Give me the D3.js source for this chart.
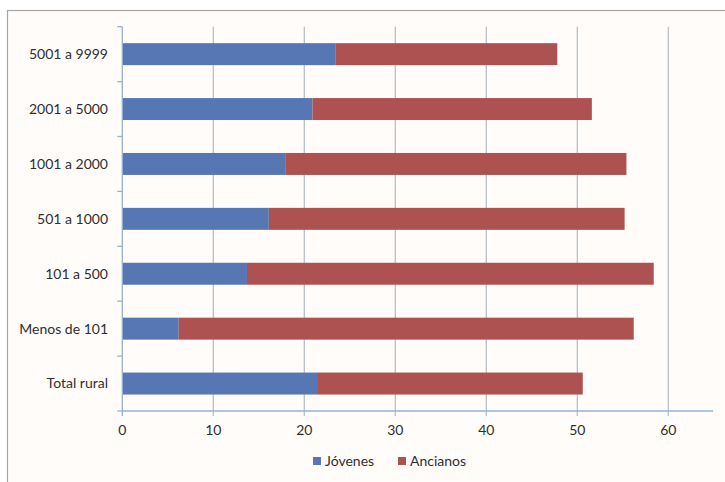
<!DOCTYPE html>
<html>
<head>
<meta charset="utf-8">
<script src="https://cdn.jsdelivr.net/npm/d3@7"></script>
<style>
  html, body { margin: 0; padding: 0; background: #ffffff; }
  svg { display: block; }
  text { font-family: Lato, "Open Sans", sans-serif; fill: #2f2f2f; }
</style>
</head>
<body>
<script>
// Población por tamaño de municipio: porcentaje de jóvenes y ancianos
const categories = ["5001 a 9999", "2001 a 5000", "1001 a 2000", "501 a 1000", "101 a 500", "Menos de 101", "Total rural"];
const jovenes  = [23.4, 20.9, 17.9, 16.1, 13.7, 6.2, 21.4];
const ancianos = [24.4, 30.7, 37.5, 39.1, 44.7, 50.0, 29.2];
const seriesNames = ["Jóvenes", "Ancianos"];
const seriesColors = ["#5677b4", "#ad5250"];
const xTicks = [0, 10, 20, 30, 40, 50, 60];

const W = 725, H = 482;
const svg = d3.select("body").append("svg").attr("width", W).attr("height", H);

// chart frame
svg.append("rect")
  .attr("x", 7.5).attr("y", 10.5).attr("width", W).attr("height", H)
  .attr("fill", "#fffcfa").attr("stroke", "#a8a4a2").attr("stroke-width", 1.2);

const plotLeft = 122.3, plotRight = 713, plotTop = 26.7, plotBottom = 411;
const x = d3.scaleLinear().domain([0, 60]).range([plotLeft, plotLeft + 546]);
const y = d3.scaleBand().domain(categories).range([plotTop, plotBottom]).paddingInner(0.6).paddingOuter(0.3);

// vertical gridlines with tick stubs below the axis
svg.append("g").selectAll("line").data(xTicks.filter(d => d > 0)).join("line")
  .attr("x1", d => x(d)).attr("x2", d => x(d))
  .attr("y1", plotTop).attr("y2", plotBottom + 5)
  .attr("stroke", "#b7c0c8").attr("stroke-width", 1.3);

// stacked bars
const rows = categories.map((c, i) => ({ cat: c, "Jóvenes": jovenes[i], "Ancianos": ancianos[i] }));
const stack = d3.stack().keys(seriesNames)(rows);
svg.append("g").selectAll("g").data(stack).join("g")
  .attr("fill", (d, i) => seriesColors[i])
  .selectAll("rect").data(d => d).join("rect")
  .attr("x", d => x(d[0]))
  .attr("width", d => x(d[1]) - x(d[0]))
  .attr("y", d => y(d.data.cat))
  .attr("height", y.bandwidth());

// x axis
const xAxis = svg.append("g").attr("transform", `translate(0,${plotBottom})`);
xAxis.append("line").attr("x1", plotLeft).attr("x2", plotRight).attr("y1", 0).attr("y2", 0)
  .attr("stroke", "#93b3cf").attr("stroke-width", 1.3);
xAxis.selectAll("text").data(xTicks).join("text")
  .attr("x", d => x(d)).attr("y", 24)
  .attr("text-anchor", "middle").attr("font-size", 14)
  .text(d => d);

// y axis with tick marks at band boundaries
const yAxis = svg.append("g");
yAxis.append("line").attr("x1", plotLeft).attr("x2", plotLeft).attr("y1", plotTop).attr("y2", plotBottom + 5)
  .attr("stroke", "#93b3cf").attr("stroke-width", 1.3);
const step = y.step();
const bounds = d3.range(categories.length + 1).map(i => plotTop + i * step);
yAxis.selectAll("line.tk").data(bounds).join("line").attr("class", "tk")
  .attr("x1", plotLeft - 5).attr("x2", plotLeft)
  .attr("y1", d => d).attr("y2", d => d)
  .attr("stroke", "#93b3cf").attr("stroke-width", 1.3);
yAxis.selectAll("text").data(categories).join("text")
  .attr("x", 108).attr("y", d => y(d) + y.bandwidth() / 2)
  .attr("dy", "0.35em").attr("text-anchor", "end").attr("font-size", 14)
  .text(d => d);

// legend
const legend = svg.append("g");
const legendX = [313, 398];
seriesNames.forEach((s, i) => {
  const g = legend.append("g").attr("transform", `translate(${legendX[i]},461)`);
  g.append("rect").attr("x", 0).attr("y", -4).attr("width", 8).attr("height", 8).attr("fill", seriesColors[i]);
  g.append("text").attr("x", 12).attr("y", 0).attr("dy", "0.35em").attr("font-size", 14).text(s);
});
</script>
</body>
</html>
